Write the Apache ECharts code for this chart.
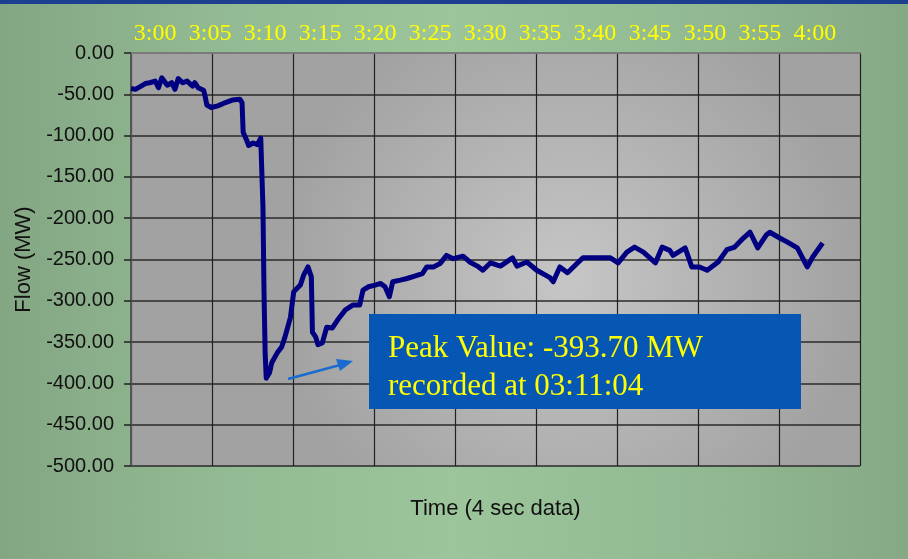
<!DOCTYPE html>
<html>
<head>
<meta charset="utf-8">
<title>Flow (MW)</title>
<script src="https://cdn.jsdelivr.net/npm/echarts@6/dist/echarts.min.js"></script>
<style>
  html, body {
    margin: 0;
    padding: 0;
    width: 908px;
    height: 559px;
    overflow: hidden;
    background: linear-gradient(90deg, #83a683 0%, #93bb93 25%, #9cc59c 50%, #93bb93 75%, #85a985 100%);
  }
  #bar {
    position: absolute;
    left: 0;
    top: 0;
    width: 908px;
    height: 4px;
    background: #1d3f8f;
  }
  #chart {
    position: absolute;
    left: 0;
    top: 0;
    width: 908px;
    height: 559px;
  }
</style>
</head>
<body>
<div id="bar"></div>
<div id="chart"></div>
<script>
// minutes after 3:00
const minutes = [
  -2.2, -1.8, -1.4, -0.9, -0.5, 0, 0.3, 0.6, 1.1, 1.5, 1.8, 2.1, 2.5, 2.9, 3.4, 3.6, 3.9, 4.4, 4.5, 4.7,
  5.1, 5.7, 6.4, 7.0, 7.7, 7.9, 8.0, 8.3, 8.5, 8.9, 9.3, 9.6, 9.7, 9.8, 9.9, 10.0, 10.1, 10.4, 10.6, 11.1,
  11.5, 11.8, 12.3, 12.6, 13.2, 13.5, 13.9, 14.2, 14.3, 14.6, 14.8, 15.2, 15.6, 16.1, 16.6, 17.3, 18.0, 18.6, 18.9, 19.4,
  20.0, 20.5, 20.9, 21.3, 21.6, 22.3, 22.9, 23.6, 24.3, 24.7, 25.3, 25.9, 26.5, 27.1, 28.0, 28.6, 29.3, 29.8, 30.5, 31.4,
  32.5, 32.9, 33.8, 34.7, 35.9, 36.2, 36.8, 37.5, 38.5, 38.9, 40.2, 41.4, 42.1, 42.9, 43.6, 44.4, 45.5, 46.1, 46.8, 47.1,
  48.2, 48.8, 49.5, 50.2, 51.2, 52.0, 52.7, 53.5, 54.1, 54.8, 55.6, 55.9, 56.8, 57.5, 58.4, 59.3, 59.8, 60.7
]
const flow = [
  -43, -44, -41, -37, -36, -34, -42, -30, -39, -36, -44, -31, -36, -34, -40, -36, -42, -45, -50, -63,
  -66, -64, -60, -57, -56, -60, -96, -105, -112, -109, -111, -103, -101, -186, -291, -363, -393.7, -387, -375, -363,
  -356, -344, -320, -289, -281, -269, -259, -271, -338, -344, -353, -351, -332, -333, -323, -311, -305, -305, -287, -283,
  -281, -279, -283, -295, -277, -275, -273, -270, -267, -259, -259, -255, -245, -249, -246, -253, -258, -263, -254, -258,
  -248, -258, -253, -263, -272, -277, -259, -266, -253, -248, -248, -248, -254, -241, -235, -241, -254, -235, -239, -245,
  -236, -259, -259, -263, -253, -238, -235, -224, -217, -236, -220, -217, -224, -229, -236, -259, -247, -230
]
const timeTicks = [0, 5, 10, 15, 20, 25, 30, 35, 40, 45, 50, 55, 60]
const peakText = ['Peak Value: -393.70 MW', 'recorded at 03:11:04']

const chart = echarts.init(document.getElementById('chart'), null, { renderer: 'canvas' })

const serif = '"Liberation Serif", "Times New Roman", serif'
const sans = '"Liberation Sans", Arial, sans-serif'

chart.setOption({
  backgroundColor: 'transparent',
  animation: false,
  grid: {
    left: 131,
    top: 53,
    right: 48,
    bottom: 93,
    show: true,
    borderWidth: 0,
    backgroundColor: {
      type: 'radial',
      x: 0.6,
      y: 0.55,
      r: 0.7,
      colorStops: [
        { offset: 0, color: '#c6c6c6' },
        { offset: 1, color: '#a2a2a2' }
      ]
    }
  },
  xAxis: [
    {
      // grid lines only
      type: 'value',
      position: 'bottom',
      min: 0,
      max: 9,
      interval: 1,
      name: 'Time (4 sec data)',
      nameLocation: 'middle',
      nameGap: 32,
      nameTextStyle: { fontFamily: sans, fontSize: 22, color: '#111' },
      axisLine: { show: true, lineStyle: { color: '#7a7a7a', width: 2 } },
      axisTick: { show: false },
      axisLabel: { show: false },
      splitLine: { show: true, lineStyle: { color: '#222', width: 1.2 } }
    },
    {
      type: 'value',
      position: 'top',
      min: -2.2,
      max: 64.1,
      axisLine: { show: false },
      axisTick: { show: false },
      splitLine: { show: false },
      axisLabel: {
        customValues: timeTicks,
        margin: 7,
        color: '#ffff00',
        fontFamily: serif,
        fontSize: 24,
        textShadowColor: '#2a2a2a',
        textShadowOffsetX: 1.5,
        textShadowOffsetY: 1.5,
        formatter: v => v === 60 ? '4:00' : '3:' + String(v).padStart(2, '0')
      }
    }
  ],
  yAxis: {
    type: 'value',
    min: -500,
    max: 0,
    interval: 50,
    name: 'Flow (MW)',
    nameLocation: 'middle',
    nameGap: 92,
    nameTextStyle: { fontFamily: sans, fontSize: 22, color: '#111' },
    axisLine: { show: true, lineStyle: { color: '#555', width: 2 } },
    axisTick: { show: true, inside: false, length: 7, lineStyle: { color: '#222', width: 1.5 } },
    axisLabel: {
      margin: 17,
      color: '#111',
      fontFamily: sans,
      fontSize: 20,
      formatter: v => v.toFixed(2)
    },
    splitLine: { show: true, lineStyle: { color: '#2a2a2a', width: 1.5 } }
  },
  series: [
    {
      type: 'line',
      xAxisIndex: 1,
      data: minutes.map((m, i) => [m, flow[i]]),
      showSymbol: false,
      smooth: false,
      lineStyle: { color: '#000080', width: 5, join: 'round' }
    }
  ],
  graphic: [
    {
      type: 'line',
      z: 100,
      shape: { x1: 288, y1: 379, x2: 340, y2: 365 },
      style: { stroke: '#1a6bd0', lineWidth: 2.5 }
    },
    {
      type: 'polygon',
      z: 100,
      shape: { points: [[353, 361], [336, 359], [340, 371]] },
      style: { fill: '#1a6bd0' }
    },
    {
      type: 'rect',
      z: 100,
      shape: { x: 369, y: 314, width: 432, height: 95 },
      style: { fill: '#0656b4' }
    },
    {
      type: 'text',
      z: 101,
      x: 388,
      y: 330,
      style: {
        text: peakText.join('\n'),
        fontFamily: serif,
        fontSize: 31,
        lineHeight: 38,
        fill: '#ffff00',
        textShadowColor: '#1a1a1a',
        textShadowOffsetX: 2,
        textShadowOffsetY: 2
      }
    }
  ]
})
</script>
</body>
</html>
